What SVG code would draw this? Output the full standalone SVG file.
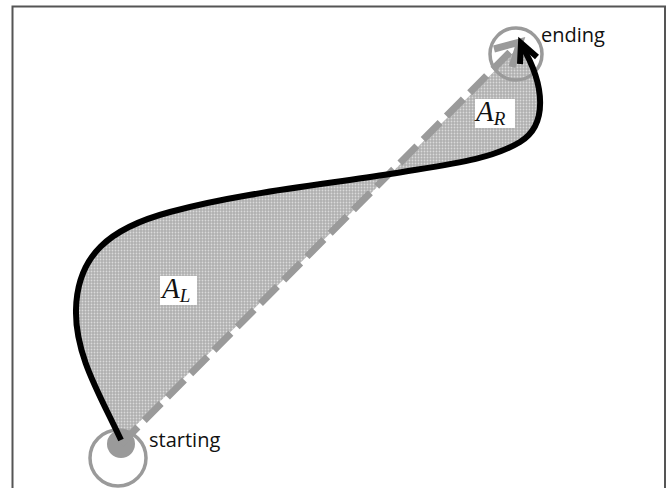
<svg xmlns="http://www.w3.org/2000/svg" width="667" height="488" viewBox="0 0 667 488">
<style>
.lbl{font-family:"Open Sans","Liberation Sans",sans-serif;font-size:20px;fill:#111}
.math{font-family:"Liberation Serif","DejaVu Serif",serif;font-style:italic;fill:#111}
.ring{fill:none;stroke:#9a9a9a;stroke-width:3.5}
</style>
<defs>
<pattern id="dots" width="3" height="3" patternUnits="userSpaceOnUse">
<rect width="3" height="3" fill="#b0b0b0"/>
<circle cx="1.5" cy="1.5" r="0.9" fill="#dadada"/>
</pattern>
</defs>
<rect x="0" y="0" width="667" height="488" fill="#fff"/>
<path d="M12.5,500 V6.5 H665 V500" fill="none" stroke="#555" stroke-width="2"/>
<g id="area">
<path d="M121,440 C100,395 75,355 76,310 C77,255 110,228 170,212 C240,193 320,185 390,174 C450,164 490,160 520,142 C548,125 545,85 521,45 Z" fill="url(#dots)"/>
</g>
<g id="start">
<circle class="ring" cx="118" cy="458" r="28"/>
<circle cx="121" cy="444" r="14" fill="#9a9a9a"/>
<text class="lbl" x="149" y="447">starting</text>
</g>
<g id="end">
<circle class="ring" cx="516" cy="54" r="26"/>
<text class="lbl" x="541" y="42">ending</text>
</g>
<g id="connectors">
<line x1="121" y1="444" x2="516" y2="46" stroke="#9a9a9a" stroke-width="7" stroke-dasharray="24 9"/>
<path d="M494,49 L520,42 L512,67" fill="none" stroke="#9a9a9a" stroke-width="7" stroke-linejoin="miter"/>
<path d="M121,440 C100,395 75,355 76,310 C77,255 110,228 170,212 C240,193 320,185 390,174 C450,164 490,160 520,142 C548,125 545,85 522,46" fill="none" stroke="#000" stroke-width="6"/>
<path d="M520,64 L521,43 L537,57" fill="none" stroke="#000" stroke-width="6" stroke-linejoin="miter"/>
</g>
<g id="labelL">
<rect x="160" y="276" width="37" height="29" fill="#fff"/>
<text class="math" x="162" y="298" font-size="29">A<tspan font-size="19" dy="4">L</tspan></text>
</g>
<g id="labelR">
<rect x="475" y="99" width="40" height="29" fill="#fff"/>
<text class="math" x="476" y="121" font-size="29">A<tspan font-size="19" dy="4">R</tspan></text>
</g>
</svg>
